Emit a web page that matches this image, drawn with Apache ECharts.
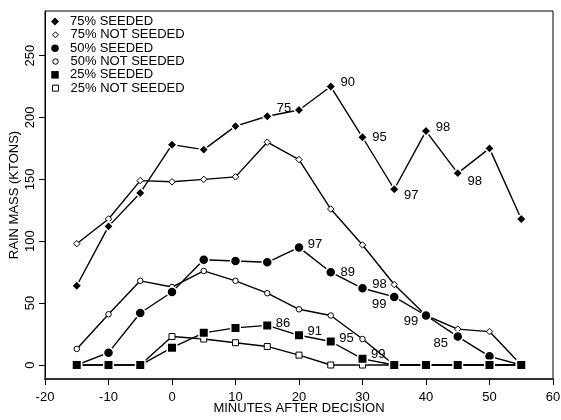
<!DOCTYPE html>
<html>
<head>
<meta charset="utf-8">
<script src="https://cdn.jsdelivr.net/npm/echarts@6/dist/echarts.min.js"></script>
<style>html,body{margin:0;padding:0;background:#fff}#c{width:561px;height:420px}</style>
</head>
<body>
<div id="c"></div>
<script>
// ---- data ----
var minutes = [-15,-10,-5,0,5,10,15,20,25,30,35,40,45,50,55];
var seeded75    = [64,112,139,178,174,193,201,206,225,184,142,189,155,175,118];
var notSeeded75 = [98,118,149,148,150,152,180,166,126,97,65,40,29,27,0];
var seeded50    = [0,10,42,59,85,84,83,95,75,62,55,40,23,7,0];
var notSeeded50 = [13,41,68,63,76,68,58,45,40,21,0,0,0,0,0];
var seeded25    = [0,0,0,14,26,30,32,24,19,5,0,0,0,0,0];
var notSeeded25 = [0,0,0,23,21,18,15,8,0,0,0,0,0,0,0];
var seeded75Labels = ['','','','','','','','75','90','95','97','98','98','',''];
var seeded50Labels = ['','','','','','','','97','89','98','99','99','85','',''];
var seeded25Labels = ['','','','','','','86','91','95','99','','','','',''];
var yTicks = [0,50,100,150,200,250];
var seriesNames = ['75% SEEDED','75% NOT SEEDED','50% SEEDED','50% NOT SEEDED','25% SEEDED','25% NOT SEEDED'];

// ---- label placement (style) ----
var place75 = {20:['left',2,-2],25:['right',4,-4],30:['right',4,0],35:['right',4,6],40:['right',4,-4],45:['right',4,8]};
var place50 = {20:['right',3,-3],25:['right',4,0],30:['right',4,-4],35:['left',2,7],40:['left',2,6],45:['left',4,7]};
var place25 = {15:['right',3,-2],20:['right',3,-4],25:['right',3,-3],30:['right',3,-4]};

var FONT = 'Liberation Sans, Arial, sans-serif';

function build(vals, labels, place) {
  return minutes.map(function (m, i) {
    var item = { value: [m, vals[i]] };
    if (labels && labels[i]) {
      var p = place[m];
      item.label = {
        show: true, formatter: labels[i], position: p[0], distance: p[1],
        offset: [0, p[2]], color: '#000', fontSize: 13, fontFamily: FONT
      };
    }
    return item;
  });
}

function mkSeries(name, vals, symbol, size, filled, labels, place) {
  return {
    name: name, type: 'line', data: build(vals, labels, place),
    symbol: symbol, symbolSize: size, showAllSymbol: true,
    lineStyle: { color: '#000', width: 1.4 },
    itemStyle: filled ? { color: '#000', borderColor: '#fff', borderWidth: 1.5 }
                      : { color: '#fff', borderColor: '#000', borderWidth: 1 },
    emphasis: { disabled: true }, silent: true, animation: false
  };
}

var series = [
  mkSeries(seriesNames[1], notSeeded75, 'diamond', 6.5, false),
  mkSeries(seriesNames[0], seeded75, 'diamond', 10, true, seeded75Labels, place75),
  mkSeries(seriesNames[3], notSeeded50, 'circle', 5.5, false),
  mkSeries(seriesNames[2], seeded50, 'circle', 10, true, seeded50Labels, place50),
  mkSeries(seriesNames[5], notSeeded25, 'rect', 6, false),
  mkSeries(seriesNames[4], seeded25, 'rect', 9.5, true, seeded25Labels, place25)
];

var legendIcons = [['diamond',8,true],['diamond',6,false],['circle',7.5,true],['circle',5.5,false],['rect',7.5,true],['rect',6,false]];
var legends = seriesNames.map(function (n, i) {
  var ic = legendIcons[i];
  var s = ic[1];
  return {
    show: true, orient: 'vertical', left: 55 - s / 2, top: 15 + i * 13.33, padding: 0,
    itemWidth: s, itemHeight: s, selectedMode: false,
    textStyle: { color: '#000', fontSize: 13, fontFamily: FONT, lineHeight: 13, padding: [0, 0, 0, 70 - (55 + s / 2 + 5)] },
    data: [{ name: n, icon: ic[0],
      itemStyle: ic[2] ? { color: '#000', borderWidth: 0 } : { color: '#fff', borderColor: '#000', borderWidth: 1 } }]
  };
});

var chart = echarts.init(document.getElementById('c'), null, { renderer: 'canvas' });
chart.setOption({
  animation: false,
  backgroundColor: '#fff',
  grid: { left: 45, right: 8, top: 11, bottom: 41, outerBoundsMode: 'none', containLabel: false,
          show: true, borderColor: '#000', borderWidth: 1, backgroundColor: 'transparent' },
  legend: legends,
  xAxis: {
    type: 'value', min: -20, max: 60, interval: 10,
    name: 'MINUTES AFTER DECISION', nameLocation: 'middle', nameGap: 23, nameMoveOverlap: false,
    nameTextStyle: { color: '#000', fontSize: 13, fontFamily: FONT },
    axisLine: { show: true, onZero: false, lineStyle: { color: '#333', width: 2 } },
    axisTick: { show: true, inside: false, length: 6, lineStyle: { color: '#000', width: 1 } },
    axisLabel: { color: '#000', fontSize: 13, fontFamily: FONT, margin: 12 },
    splitLine: { show: false }
  },
  yAxis: {
    type: 'value', min: -11.3, max: 286,
    name: 'RAIN MASS (KTONS)', nameLocation: 'middle', nameGap: 24, nameRotate: 90, nameMoveOverlap: false,
    nameTextStyle: { color: '#000', fontSize: 13, fontFamily: FONT },
    axisLine: { show: true, onZero: false, lineStyle: { color: '#000', width: 1 } },
    axisTick: { show: true, inside: false, length: 6, customValues: yTicks, lineStyle: { color: '#000', width: 1 } },
    axisLabel: { show: true, customValues: yTicks, rotate: 90, color: '#000', fontSize: 13, fontFamily: FONT, margin: 8 },
    splitLine: { show: false }
  },
  series: series
});
</script>
</body>
</html>
